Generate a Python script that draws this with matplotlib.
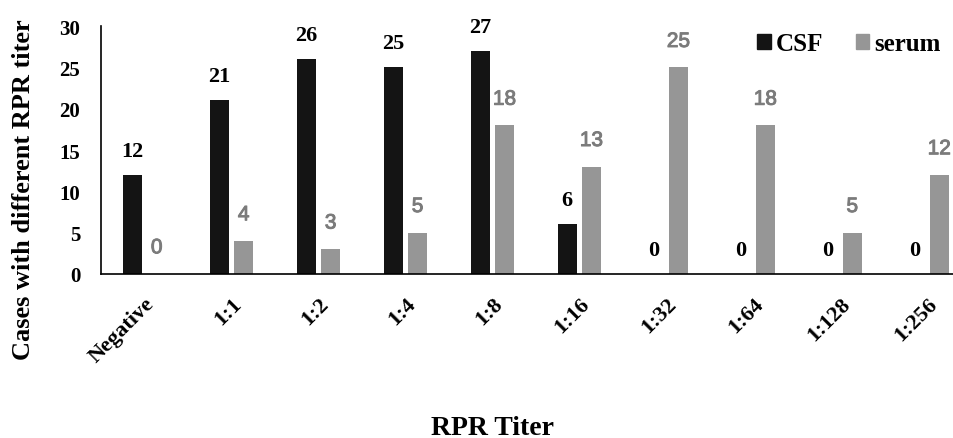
import matplotlib
matplotlib.use('Agg')
import matplotlib.pyplot as plt
import matplotlib.patheffects as pe
import numpy as np
from matplotlib.patches import Patch

# Data
titers = ['Negative', '1:1', '1:2', '1:4', '1:8', '1:16', '1:32', '1:64', '1:128', '1:256']
csf = [12, 21, 26, 25, 27, 6, 0, 0, 0, 0]
serum = [0, 4, 3, 5, 18, 13, 25, 18, 5, 12]

CSF_COLOR = '#141414'
SERUM_COLOR = '#969696'
SERUM_TEXT = '#7b7b7b'
SERIF = 'Liberation Serif'
SANS = 'Liberation Sans'

fig = plt.figure(figsize=(9.54, 4.39), dpi=100)
ax = fig.add_axes([0.106, 0.374, 0.894, 0.564])

x = np.arange(len(titers))
width = 0.22
off = 0.14

ax.bar(x - off, csf, width, color=CSF_COLOR, label='CSF')
ax.bar(x + off, serum, width, color=SERUM_COLOR, label='serum')

# value labels
for xi, v in zip(x, csf):
    ax.text(xi - off, v + 1.7, str(v), ha='center', va='bottom',
            fontsize=16, fontweight='bold', family=SERIF, color='black')
for xi, v in zip(x, serum):
    t = ax.text(xi + off, v + 2.0, str(v), ha='center', va='bottom',
                fontsize=15, family=SANS, color=SERUM_TEXT)
    # a bit heavier than regular, like the original
    t.set_path_effects([pe.withStroke(linewidth=0.7, foreground=SERUM_TEXT)])

ax.set_xlim(-0.5, 9.31)
ax.set_ylim(0, 30)
ax.set_yticks(range(0, 31, 5))
ax.set_xticks(x)
ax.set_xticklabels(titers, rotation=45, ha='right', rotation_mode='anchor',
                   fontsize=16, fontweight='bold', family=SERIF)
for lab in ax.get_yticklabels():
    lab.set_fontsize(15)
    lab.set_fontweight('bold')
    lab.set_family(SERIF)
ax.tick_params(axis='x', length=0, pad=14)
ax.tick_params(axis='y', length=0, pad=15)

for s in ['top', 'right']:
    ax.spines[s].set_visible(False)
ax.spines['left'].set_linewidth(1.2)
ax.spines['bottom'].set_linewidth(1.2)

fig.text(0.025, 0.567, 'Cases with different RPR titer', rotation=90,
         ha='center', va='center', fontsize=19, fontweight='bold', family=SERIF)
fig.text(0.516, 0.01, 'RPR Titer', ha='center', va='baseline', fontsize=20,
         fontweight='bold', family=SERIF)

handles = [Patch(color=CSF_COLOR), Patch(color=SERUM_COLOR)]
ax.legend(handles, ['CSF', 'serum'], loc='upper right',
          bbox_to_anchor=(0.986, 0.925), bbox_transform=fig.transFigure,
          ncol=2, frameon=False, borderpad=0, borderaxespad=0,
          handlelength=0.55, handleheight=0.55,
          handletextpad=0.2, columnspacing=1.3,
          prop={'family': SERIF, 'weight': 'bold', 'size': 18})

fig.savefig('out.png', dpi=100)
